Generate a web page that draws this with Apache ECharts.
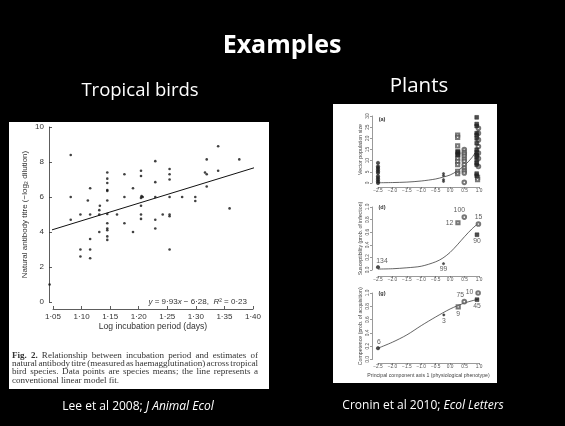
<!DOCTYPE html>
<html><head><meta charset="utf-8">
<script src="https://cdn.jsdelivr.net/npm/echarts@6/dist/echarts.min.js"></script>
<style>html,body{margin:0;padding:0;background:#000;}#c{width:565px;height:426px;}</style>
</head><body><div id="c"></div>
<script>
// ---------- Tropical birds (Lee et al 2008) ----------
const birdIncubation = [1.044,1.081,1.081,1.081,1.098,1.098,1.098,1.111,1.115,1.115,1.115,1.115,1.115,
  1.131,1.132,1.131,1.131,
  1.145,1.145,1.145,1.145,1.145,1.145,1.145,1.145,1.145,1.145,1.145,1.145,
  1.162,1.175,1.175,1.175,1.19,1.19,
  1.204,1.204,1.204,1.205,1.204,1.204,1.204,1.207,
  1.229,1.229,1.229,1.229,1.229,1.242,
  1.254,1.254,1.254,1.254,1.254,1.254,1.254,
  1.276,1.299,1.299,1.316,1.319,1.319,1.319,1.339,1.339,1.359,1.376];
const birdTitre = [1.0,8.4,6.0,4.7,5.0,3.0,2.6,5.8,6.5,5.0,3.6,3.0,2.5,
  5.25,5.5,5.0,4.0,
  7.4,7.05,6.8,6.4,6.35,5.8,5.03,4.5,4.2,4.1,3.75,3.55,
  5.0,7.3,6.0,4.5,6.5,4.0,
  7.5,7.2,5.95,6.05,5.5,5.0,4.75,6.0,
  8.05,6.85,6.0,4.7,4.2,5.0,
  7.6,7.3,7.0,6.0,5.0,4.9,3.0,
  6.0,6.0,5.77,7.4,7.3,8.15,6.6,8.9,7.5,5.35,8.15];
const birdFitX = [1.043, 1.409];
const birdFitY = [4.07, 7.74];
const birdXTickLabels = ['1·05','1·10','1·15','1·20','1·25','1·30','1·35','1·40'];
const birdYTickLabels = ['0','2','4','6','8','10'];

// ---------- Plants (Cronin et al 2010) ----------
const pcTickLabels = ['−2.5','−2.0','−1.5','−1.0','−0.5','0.0','0.5','1.0'];
const vectorTickLabels = ['0','5','10','15','20','25','30'];
const probTickLabels = ['0.0','0.2','0.4','0.6','0.8','1.0'];

// (a) vector population size
const vecFilledCircleX = [-2.5,-2.5,-2.5,-2.5,-2.5,-2.5,-2.5,-2.5,-2.5,-2.5,-2.5];
const vecFilledCircleY = [9,7.4,6.7,5.9,5.2,4.5,3,2.2,1.5,0.7,0];
const vecDotX = [-0.23,-0.23,-0.23,-0.23];
const vecDotY = [4.2,3.3,1.5,0.7];
const vecOpenSquareX = [0.26,0.26,0.26,0.26,0.26,0.26,0.26,0.26,0.26,0.26,0.95,0.95];
const vecOpenSquareY = [21.5,20.4,16.6,14,12.6,11,9.7,8.2,5.2,4.2,2.5,1.5];
const vecFilledSquareX = [0.27,0.27,0.27,0.92,0.92,0.92,0.92,0.92,0.92,0.92,0.92,0.92,0.92,0.92,0.92,0.92,0.92,0.92,0.92];
const vecFilledSquareY = [14,13.3,12.6,29.4,26.4,25.5,22.3,21.5,20,17.8,14.9,13.7,12.6,11.9,10.4,8.9,8.2,4.2,3.3];
const vecOpenCircleX = [0.49,0.49,0.49,0.49,0.49,0.49,0.49,0.49,0.49,0.49,0.49,0.98,0.98,0.98,0.98,0.98,0.98,0.98];
const vecOpenCircleY = [15,13.7,13,12,10.7,9.7,8.2,6.7,5.5,4.5,0.3,24.5,22.3,19.3,16.3,13.4,11,7.4];
const vecFitX = [-2.5,-2,-1.5,-1,-0.5,-0.23,0,0.25,0.5,0.75,1.0];
const vecFitY = [0.1,0.2,0.4,0.9,1.8,2.7,3.6,5.4,7.9,11.3,16.3];

// (d) susceptibility
const suscX = [-2.5,-0.23,0.27,0.49,0.98,0.93];
const suscY = [0.045,0.1,0.75,0.84,0.73,0.56];
const suscN = ['134','99','12','100','15','90'];
const suscGroup = ['filledCircle','dot','openSquare','openCircle','openCircle','filledSquare'];
const suscFitX = [-2.5,-2,-1.5,-1,-0.5,-0.25,0,0.25,0.5,0.75,1.0];
const suscFitY = [0.015,0.02,0.035,0.06,0.13,0.19,0.28,0.4,0.53,0.65,0.75];

// (g) competence
const compX = [-2.5,-0.22,0.49,0.28,0.97,0.93];
const compY = [0.17,0.67,0.87,0.79,1.0,0.9];
const compN = ['6','3','75','9','10','45'];
const compGroup = ['filledCircle','dot','openCircle','openSquare','openCircle','filledSquare'];
const compFitX = [-2.5,-2,-1.5,-1,-0.5,0,0.5,1.0];
const compFitY = [0.17,0.26,0.37,0.51,0.64,0.76,0.85,0.91];

// ---------- Texts ----------
const captionLines = [
  'Fig. 2. Relationship between incubation period and estimates of',
  'natural antibody titre (measured as haemagglutination) across tropical',
  'bird species. Data points are species means; the line represents a',
  'conventional linear model fit.'
];

// ---------- Styles ----------
const groupStyle = {
  filledCircle: {symbol:'circle', size:3.4, color:'#222'},
  dot: {symbol:'circle', size:2.2, color:'#222'},
  openSquare: {symbol:'emptyRect', size:3.2, color:'#555'},
  openCircle: {symbol:'emptyCircle', size:3.6, color:'#555'},
  filledSquare: {symbol:'rect', size:3.8, color:'#222'}
};
const suscLabelPos = [['top',[4,1]],['bottom',[0,-0.5]],['left',[-0.5,0]],['top',[-5,1]],['top',[0,1]],['bottom',[0,-0.5]]];
const compLabelPos = [['top',[1,1]],['bottom',[0,-0.5]],['top',[-4,1]],['bottom',[0,-0.5]],['left',[-0.5,-1]],['bottom',[0,-0.5]]];

const zip = (xs, ys) => xs.map((x, i) => [x, ys[i]]);
const AX = '#555';
const SANS = 'Liberation Sans';

function plantXAxis(gi, offset, name) {
  return {type:'value', gridIndex:gi, min:-2.5, max:1.0, interval:0.5, offset:offset,
    axisLine:{show:true, onZero:false, lineStyle:{color:AX, width:0.6}},
    axisTick:{show:true, length:2, lineStyle:{color:AX, width:0.6}},
    axisLabel:{show:true, fontSize:4.8, margin:1.2, color:'#555', fontFamily:SANS,
      formatter: v => pcTickLabels[Math.round((v + 2.5) / 0.5)]},
    splitLine:{show:false},
    name: name || '', nameLocation:'middle', nameGap:10.5,
    nameTextStyle:{fontSize:5.2, color:'#444', fontFamily:SANS}};
}
function plantYAxis(gi, max, interval, labels, name) {
  return {type:'value', gridIndex:gi, min:0, max:max, interval:interval, offset:6,
    axisLine:{show:true, onZero:false, lineStyle:{color:AX, width:0.6}},
    axisTick:{show:true, length:2, lineStyle:{color:AX, width:0.6}},
    axisLabel:{show:true, rotate:90, fontSize:4.8, margin:1.5, color:'#555', fontFamily:SANS,
      formatter: v => labels[Math.round(v / interval)]},
    splitLine:{show:false},
    name: name, nameLocation:'middle', nameGap:9, nameRotate:90,
    nameTextStyle:{fontSize:5.2, color:'#444', fontFamily:SANS}};
}
function groupSeries(ai, xs, ys, g) {
  const st = groupStyle[g];
  return {type:'scatter', xAxisIndex:ai, yAxisIndex:ai, data:zip(xs, ys), symbol:st.symbol,
    symbolSize:st.size, itemStyle:{color:st.color, borderColor:st.color, borderWidth:0.6}, clip:false, silent:true, z:3};
}
function labelledSeries(ai, xs, ys, ns, groups, pos) {
  return {type:'scatter', xAxisIndex:ai, yAxisIndex:ai, clip:false, silent:true, z:3,
    data: xs.map((x, i) => {
      const st = groupStyle[groups[i]];
      return {value:[x, ys[i]], symbol:st.symbol, symbolSize:st.size,
        itemStyle:{color:st.color, borderColor:st.color, borderWidth:0.6},
        label:{show:true, formatter:ns[i], position:pos[i][0], offset:pos[i][1], distance:1.5,
          fontSize:6.8, color:'#333', fontFamily:SANS}};
    })};
}
function fitSeries(ai, xs, ys, w) {
  return {type:'line', xAxisIndex:ai, yAxisIndex:ai, data:zip(xs, ys), symbol:'none', showSymbol:false,
    smooth:0.3, clip:false, silent:true, z:2, lineStyle:{color:'#222', width:w}};
}

// ---------- Caption (justified words) ----------
const mctx = document.createElement('canvas').getContext('2d');
const capFamily = 'Liberation Serif';
const capLeft = 12, capRight = 258, capY0 = 355.7, capDY = 8.15, capMinGap = 1.2;
const fontFor = (fs, bold) => (bold ? 'bold ' : '') + fs + 'px "' + capFamily + '"';
// choose the font size so that the tightest justified line still keeps a small gap
let capFS = 100;
captionLines.slice(0, captionLines.length - 1).forEach((line, li) => {
  const words = line.split(' ');
  let total = 0;
  words.forEach((w, wi) => { mctx.font = fontFor(10, li === 0 && wi < 2); total += mctx.measureText(w).width; });
  const fs = 10 * (capRight - capLeft - (words.length - 1) * capMinGap) / total;
  capFS = Math.min(capFS, fs);
});
const captionEls = [];
captionLines.forEach((line, li) => {
  const words = line.split(' ');
  const fonts = words.map((w, wi) => fontFor(capFS, li === 0 && wi < 2));
  const widths = words.map((w, wi) => { mctx.font = fonts[wi]; return mctx.measureText(w).width; });
  const total = widths.reduce((a, b) => a + b, 0);
  mctx.font = fontFor(capFS, false);
  const justify = li < captionLines.length - 1;
  const gap = justify ? (capRight - capLeft - total) / (words.length - 1) : mctx.measureText(' ').width;
  let x = capLeft;
  words.forEach((w, wi) => {
    captionEls.push({type:'text', x:x, y:capY0 + li * capDY, z:100,
      style:{text:w, font:fonts[wi], fill:'#333', textAlign:'left', textVerticalAlign:'middle', align:'left', verticalAlign:'middle'}});
    x += widths[wi] + gap;
  });
});

function txt(x, y, text, font, fill, align, extra) {
  return {type:'text', x:x, y:y, z:100,
    style:Object.assign({text:text, font:font, fill:fill, textAlign:align || 'center', align:align || 'center',
      textVerticalAlign:'middle', verticalAlign:'middle'}, extra || {})};
}

const chart = echarts.init(document.getElementById('c'), null, {renderer:'canvas', width:565, height:426});
chart.setOption({
  backgroundColor:'#000',
  animation:false,
  grid:[
    {left:53, top:127, width:200, height:175, outerBoundsMode:'none'},
    {left:378, top:116, width:101, height:67, outerBoundsMode:'none'},
    {left:378, top:207, width:101, height:63, outerBoundsMode:'none'},
    {left:378, top:293, width:101, height:66.5, outerBoundsMode:'none'}
  ],
  xAxis:[
    {type:'value', gridIndex:0, min:1.05, max:1.40, interval:0.05, offset:7,
      axisLine:{show:true, onZero:false, lineStyle:{color:'#333', width:0.8}},
      axisTick:{show:true, inside:true, length:3, lineStyle:{color:'#333', width:0.8}},
      axisLabel:{show:true, fontSize:8, margin:4, color:'#333', fontFamily:SANS,
        formatter: v => birdXTickLabels[Math.round((v - 1.05) / 0.05)]},
      splitLine:{show:false},
      name:'Log incubation period (days)', nameLocation:'middle', nameGap:12,
      nameTextStyle:{fontSize:8.6, color:'#333', fontFamily:SANS}},
    plantXAxis(1, 4, ''),
    plantXAxis(2, 6, ''),
    plantXAxis(3, 3.5, 'Principal component axis 1 (physiological phenotype)')
  ],
  yAxis:[
    {type:'value', gridIndex:0, min:0, max:10, interval:2, offset:4,
      axisLine:{show:true, onZero:false, lineStyle:{color:'#333', width:0.8}},
      axisTick:{show:true, inside:true, length:3, lineStyle:{color:'#333', width:0.8}},
      axisLabel:{show:true, fontSize:8, margin:5, color:'#333', fontFamily:SANS,
        formatter: v => birdYTickLabels[Math.round(v / 2)]},
      splitLine:{show:false},
      name:'Natural antibody titre (−log₂ dilution)', nameLocation:'middle', nameGap:20, nameRotate:90,
      nameTextStyle:{fontSize:8, color:'#333', fontFamily:SANS}},
    plantYAxis(1, 30, 5, vectorTickLabels, 'Vector population size'),
    plantYAxis(2, 1, 0.2, probTickLabels, 'Susceptibility (prob. of infection)'),
    plantYAxis(3, 1, 0.2, probTickLabels, 'Competence (prob. of acquisition)')
  ],
  graphic:{elements:[
    {type:'rect', shape:{x:9, y:122, width:260, height:267}, style:{fill:'#fff'}, z:-100},
    {type:'rect', shape:{x:333, y:104, width:164, height:279}, style:{fill:'#fff'}, z:-100},
    txt(282, 46, 'Examples', 'bold 25px "Open Sans"', '#fff'),
    txt(140, 90.5, 'Tropical birds', '18.5px "Open Sans"', '#fff'),
    txt(419, 86, 'Plants', '20.5px "Open Sans"', '#fff'),
    txt(138, 407, 'Lee et al 2008; {i|J Animal Ecol}', '12px "Open Sans"', '#fff', 'center',
      {rich:{i:{fontStyle:'italic', fontSize:12, fontFamily:'Open Sans', fill:'#fff', color:'#fff'}}}),
    txt(423, 406, 'Cronin et al 2010; {i|Ecol Letters}', '12px "Open Sans"', '#fff', 'center',
      {rich:{i:{fontStyle:'italic', fontSize:12, fontFamily:'Open Sans', fill:'#fff', color:'#fff'}}}),
    txt(247, 302, '{i|y} = 9·93{i|x} − 6·28,  {i|R}² = 0·23', '8px "Liberation Sans"', '#333', 'right',
      {rich:{i:{fontStyle:'italic', fontSize:8, fontFamily:'Liberation Sans', fill:'#333', color:'#333'}}}),
    txt(382, 119, '(a)', 'bold 5.5px "Liberation Sans"', '#333', 'center'),
    txt(382, 207, '(d)', 'bold 5.5px "Liberation Sans"', '#333', 'center'),
    txt(382, 293.5, '(g)', 'bold 5.5px "Liberation Sans"', '#333', 'center')
  ].concat(captionEls)},
  series:[
    {type:'scatter', xAxisIndex:0, yAxisIndex:0, data:zip(birdIncubation, birdTitre), symbol:'circle',
      symbolSize:2.6, itemStyle:{color:'#111'}, clip:false, silent:true, z:3},
    {type:'line', xAxisIndex:0, yAxisIndex:0, data:zip(birdFitX, birdFitY), symbol:'none', showSymbol:false,
      clip:false, silent:true, lineStyle:{color:'#111', width:1}, z:2},
    fitSeries(1, vecFitX, vecFitY, 0.7),
    groupSeries(1, vecFilledCircleX, vecFilledCircleY, 'filledCircle'),
    groupSeries(1, vecDotX, vecDotY, 'dot'),
    groupSeries(1, vecOpenSquareX, vecOpenSquareY, 'openSquare'),
    groupSeries(1, vecOpenCircleX, vecOpenCircleY, 'openCircle'),
    groupSeries(1, vecFilledSquareX, vecFilledSquareY, 'filledSquare'),
    fitSeries(2, suscFitX, suscFitY, 0.7),
    labelledSeries(2, suscX, suscY, suscN, suscGroup, suscLabelPos),
    fitSeries(3, compFitX, compFitY, 0.7),
    labelledSeries(3, compX, compY, compN, compGroup, compLabelPos)
  ]
});
</script>
</body></html>
